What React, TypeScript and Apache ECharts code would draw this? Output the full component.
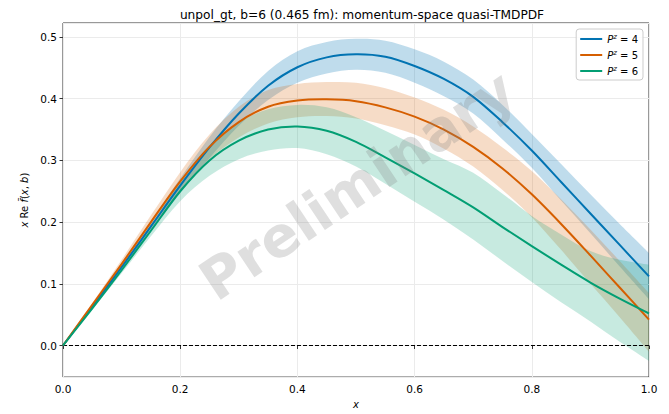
import React, { useEffect, useRef } from "react";
import * as echarts from "echarts";

const X = [0, 0.05, 0.1, 0.15, 0.2, 0.25, 0.3, 0.35, 0.4, 0.45, 0.5, 0.55, 0.6, 0.65, 0.7, 0.75, 0.8, 0.85, 0.9, 0.95, 1.0];

const P4 = [0, 0.063, 0.127, 0.193, 0.259, 0.321, 0.376, 0.421, 0.451, 0.467, 0.472, 0.468, 0.453, 0.432, 0.403, 0.362, 0.316, 0.265, 0.214, 0.163, 0.112];
const P4_hi = [0, 0.065, 0.132, 0.201, 0.271, 0.338, 0.396, 0.445, 0.477, 0.492, 0.497, 0.494, 0.48, 0.46, 0.431, 0.39, 0.343, 0.294, 0.245, 0.197, 0.15];
const P4_lo = [0, 0.061, 0.122, 0.185, 0.247, 0.304, 0.356, 0.398, 0.426, 0.441, 0.447, 0.442, 0.426, 0.404, 0.376, 0.334, 0.288, 0.235, 0.182, 0.128, 0.075];

const P5 = [0, 0.066, 0.132, 0.2, 0.266, 0.322, 0.362, 0.387, 0.397, 0.399, 0.396, 0.386, 0.371, 0.35, 0.322, 0.287, 0.245, 0.197, 0.146, 0.094, 0.042];
const P5_hi = [0, 0.069, 0.139, 0.211, 0.281, 0.342, 0.387, 0.414, 0.424, 0.427, 0.426, 0.417, 0.402, 0.382, 0.355, 0.321, 0.283, 0.237, 0.188, 0.137, 0.085];
const P5_lo = [0, 0.063, 0.125, 0.189, 0.251, 0.302, 0.337, 0.36, 0.37, 0.372, 0.368, 0.357, 0.342, 0.319, 0.29, 0.252, 0.208, 0.155, 0.1, 0.046, -0.01];

const P6 = [0, 0.06, 0.122, 0.186, 0.25, 0.3, 0.332, 0.35, 0.355, 0.348, 0.33, 0.305, 0.279, 0.252, 0.224, 0.192, 0.161, 0.131, 0.102, 0.076, 0.052];
const P6_hi = [0, 0.062, 0.127, 0.195, 0.266, 0.325, 0.362, 0.383, 0.39, 0.386, 0.37, 0.348, 0.325, 0.302, 0.28, 0.246, 0.21, 0.18, 0.153, 0.139, 0.131];
const P6_lo = [0, 0.058, 0.117, 0.177, 0.234, 0.275, 0.302, 0.316, 0.32, 0.31, 0.29, 0.262, 0.233, 0.204, 0.172, 0.137, 0.103, 0.07, 0.039, 0.006, -0.025];

const NAMES = ["P4", "P5", "P6"];
const LABELS = ["4", "5", "6"];
const COLORS = ["#0173b2", "#d55e00", "#029e73"];
const FILLS = ["rgba(1,115,178,0.25)", "rgba(213,94,0,0.22)", "rgba(2,158,115,0.22)"];

const TITLE = "unpol_gt, b=6 (0.465 fm): momentum-space quasi-TMDPDF";
const FONT = "DejaVu Sans";

function splineTo(ctx: any, pts: number[][]) {
  const n = pts.length;
  for (let i = 0; i < n - 1; i++) {
    const p0 = pts[Math.max(0, i - 1)];
    const p1 = pts[i];
    const p2 = pts[i + 1];
    const p3 = pts[Math.min(n - 1, i + 2)];
    const c1x = p1[0] + (p2[0] - p0[0]) / 6;
    const c1y = p1[1] + (p2[1] - p0[1]) / 6;
    const c2x = p2[0] - (p3[0] - p1[0]) / 6;
    const c2y = p2[1] - (p3[1] - p1[1]) / 6;
    ctx.bezierCurveTo(c1x, c1y, c2x, c2y, p2[0], p2[1]);
  }
}

let registered = false;
function registerShapes() {
  if (registered) return;
  registered = true;
  const G = echarts.graphic as any;
  const Band = G.extendShape({
    shape: { up: [], lo: [] },
    buildPath(ctx: any, shape: any) {
      const up = shape.up as number[][];
      const lo = shape.lo as number[][];
      if (!up.length) return;
      ctx.moveTo(up[0][0], up[0][1]);
      splineTo(ctx, up);
      const rl = lo.slice().reverse();
      ctx.lineTo(rl[0][0], rl[0][1]);
      splineTo(ctx, rl);
      ctx.closePath();
    },
  });
  G.registerShape("band", Band);
  const Curve = G.extendShape({
    shape: { pts: [] },
    buildPath(ctx: any, shape: any) {
      const pts = shape.pts as number[][];
      if (!pts.length) return;
      ctx.moveTo(pts[0][0], pts[0][1]);
      splineTo(ctx, pts);
    },
  });
  G.registerShape("curve", Curve);
}

export default function App() {
  const ref = useRef<HTMLDivElement>(null);
  useEffect(() => {
    registerShapes();
    const chart = echarts.init(ref.current!, null, { renderer: "svg" });
    const centers = [P4, P5, P6];
    const his = [P4_hi, P5_hi, P6_hi];
    const los = [P4_lo, P5_lo, P6_lo];
    const series: any[] = [];
    centers.forEach((c, k) => {
      series.push({
        type: "custom",
        name: "band" + k,
        coordinateSystem: "cartesian2d",
        data: [[0, 0]],
        silent: true,
        z: 1,
        renderItem: (params: any, api: any) => {
          const up = X.map((x, i) => api.coord([x, his[k][i]]));
          const lo = X.map((x, i) => api.coord([x, los[k][i]]));
          return {
            type: "band",
            shape: { up, lo },
            style: { fill: FILLS[k], stroke: "none" },
          };
        },
      });
    });
    centers.forEach((c, k) => {
      series.push({
        type: "custom",
        name: NAMES[k],
        coordinateSystem: "cartesian2d",
        data: [[0, 0]],
        silent: true,
        z: 3,
        itemStyle: { color: COLORS[k] },
        renderItem: (params: any, api: any) => {
          const pts = X.map((x, i) => api.coord([x, c[i]]));
          return {
            type: "curve",
            shape: { pts },
            style: { fill: "none", stroke: COLORS[k], lineWidth: 2 },
          };
        },
      });
    });
    series.push({
      type: "line",
      name: "zero",
      data: [[0, 0], [1, 0]],
      symbol: "none",
      lineStyle: { color: "#000", width: 1, type: [4, 2] },
      silent: true,
      z: 2,
    });

    chart.setOption({
      animation: false,
      textStyle: { fontFamily: FONT },
      title: {
        text: TITLE,
        left: 357,
        top: 4,
        textAlign: "center",
        textStyle: { fontFamily: FONT, fontSize: 12.2, fontWeight: "normal", color: "#000" },
      },
      grid: {
        left: 63,
        right: 20,
        top: 23,
        bottom: 31,
        show: true,
        borderColor: "#333",
        borderWidth: 1,
        backgroundColor: "transparent",
      },
      legend: {
        data: NAMES.map((n, k) => ({ name: n, itemStyle: { color: COLORS[k] } })),
        orient: "vertical",
        right: 26,
        top: 29,
        itemWidth: 22,
        itemHeight: 2,
        itemGap: 5,
        icon: "rect",
        padding: [4, 5, 4, 4],
        borderColor: "#cccccc",
        borderWidth: 1,
        borderRadius: 3,
        backgroundColor: "rgba(255,255,255,0.85)",
        formatter: (n: string) => "{i|P}{s|z}{t| = " + LABELS[NAMES.indexOf(n)] + "}",
        textStyle: {
          fontFamily: FONT,
          fontSize: 10,
          color: "#000",
          rich: {
            i: { fontFamily: FONT, fontStyle: "italic", fontSize: 10, color: "#000" },
            s: { fontFamily: FONT, fontStyle: "italic", fontSize: 7, color: "#000", padding: [0, 0, 5, 0] },
            t: { fontFamily: FONT, fontSize: 10, color: "#000" },
          },
        },
      },
      xAxis: {
        type: "value",
        min: 0,
        max: 1,
        interval: 0.2,
        name: "x",
        nameLocation: "middle",
        nameGap: 17,
        nameTextStyle: { fontFamily: FONT, fontStyle: "italic", fontSize: 10, color: "#000" },
        axisLine: { show: false },
        axisTick: { show: true, length: 3.5, lineStyle: { color: "#333" } },
        axisLabel: { fontFamily: FONT, fontSize: 10.5, color: "#000", margin: 6, formatter: (v: number) => v.toFixed(1) },
        splitLine: { show: true, lineStyle: { color: "#ebebeb", width: 1 } },
      },
      yAxis: {
        type: "value",
        min: -0.0512,
        max: 0.5227,
        splitNumber: 5,
        name: "{i|x} Re {i|f\u0303}({i|x}, {i|b})",
        nameLocation: "middle",
        nameRotate: 90,
        nameGap: 21,
        nameTextStyle: {
          fontFamily: FONT,
          fontSize: 10,
          color: "#000",
          rich: {
            i: { fontFamily: FONT, fontStyle: "italic", fontSize: 10, color: "#000" },
          },
        },
        axisLine: { show: false },
        axisTick: { show: true, length: 3.5, lineStyle: { color: "#333" } },
        axisLabel: {
          fontFamily: FONT,
          fontSize: 10.5,
          color: "#000",
          margin: 6,
          showMinLabel: false,
          showMaxLabel: false,
          formatter: (v: number) => v.toFixed(1),
        },
        splitLine: { show: true, lineStyle: { color: "#ebebeb", width: 1 } },
      },
      graphic: [
        {
          type: "text",
          x: 357,
          y: 185,
          rotation: 0.59,
          z: 100,
          silent: true,
          style: {
            text: "Preliminary",
            fontFamily: FONT,
            fontWeight: "bold",
            fontSize: 56,
            fill: "rgba(128,128,128,0.25)",
            textAlign: "center",
            textVerticalAlign: "middle",
          },
        },
      ],
      series,
    });
    return () => chart.dispose();
  }, []);
  return <div ref={ref} style={{ width: 669, height: 414, position: "absolute", left: 0, top: 0 }} />;
}
